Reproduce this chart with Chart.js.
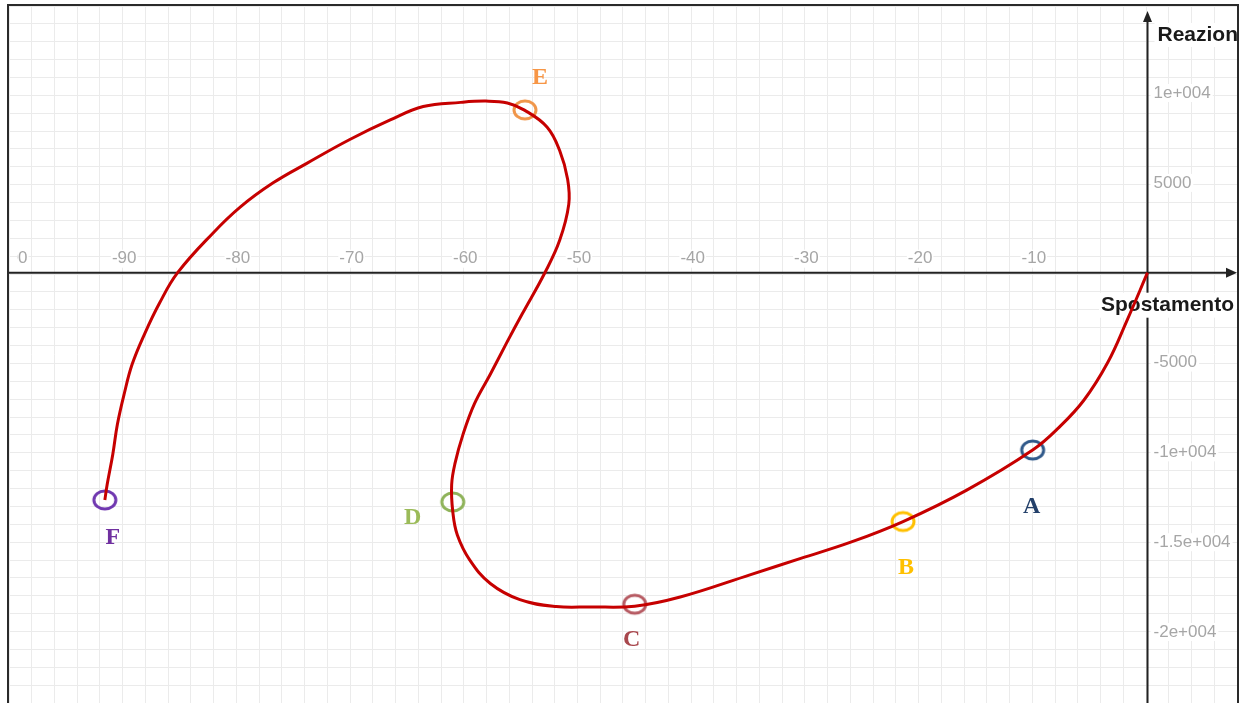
<!DOCTYPE html>
<html>
<head>
<meta charset="utf-8">
<script src="https://cdn.jsdelivr.net/npm/chart.js@4"></script>
<style>
  html, body { margin: 0; padding: 0; background: #fff; overflow: hidden; }
  #wrap { position: relative; width: 1245px; height: 703px; }
</style>
</head>
<body>
<div id="wrap"><canvas id="myChart"></canvas></div>
<script>
// reaction vs displacement path
const curveX = [0, -1.8, -3.5, -5.6, -7.8, -10.1, -15.9, -21.5, -26.1, -30.5, -34.9, -41.1, -45.1, -49.0, -52.0,
  -55.2, -57.8, -59.6, -60.7, -61.1, -61.2, -60.9, -60.2, -59.2, -57.8, -56.4, -55.0, -53.0, -51.7, -50.9, -51.0,
  -51.7, -52.8, -54.8, -56.3, -58.2, -60.4, -63.7, -66.6, -70.2, -73.9, -76.9, -79.8, -82.2, -85.3, -86.9,
  -88.2, -89.3, -90.0, -90.6, -91.0, -91.5, -91.7];
const curveY = [0, -2650, -5000, -7100, -8620, -9870, -12100, -13850, -15000, -15900, -16800, -18050, -18560, -18600, -18580,
  -18200, -17300, -16000, -14600, -13300, -11800, -10600, -9000, -7300, -5650, -3950, -2300, 0, 1800, 3800, 5200,
  6800, 8100, 9050, 9450, 9550, 9480, 9250, 8500, 7400, 6100, 5000, 3650, 2200, 0, -1700,
  -3400, -5100, -6750, -8450, -10100, -11800, -12650];

// labelled states along the path
const pointNames = ["A", "B", "C", "D", "E", "F"];
const pointX = [-10.1, -21.5, -45.1, -61.1, -54.75, -91.7];
const pointY = [-9870, -13850, -18450, -12760, 9060, -12650];

// axis labels
const xTickValues = [-100, -90, -80, -70, -60, -50, -40, -30, -20, -10];
const xTickLabels = ["-100", "-90", "-80", "-70", "-60", "-50", "-40", "-30", "-20", "-10"];
const yTickValues = [10000, 5000, -5000, -10000, -15000, -20000];
const yTickLabels = ["1e+004", "5000", "-5000", "-1e+004", "-1.5e+004", "-2e+004"];

// styling
const markerColors = ["#30598a", "#ffc000", "#b65a62", "#8fb35a", "#f0964a", "#7038b0"];
const letterColors = ["#23406a", "#ffc000", "#a8474d", "#9bbb59", "#f79646", "#7030a0"];
const letterOffsets = [[-1, 57], [3, 46], [-3, 36], [-40, 16], [15, -32], [8, 38]];

function ellipseMarker(color) {
  const c = document.createElement("canvas");
  c.width = 30;
  c.height = 26;
  const g = c.getContext("2d");
  g.strokeStyle = color;
  g.lineWidth = 3;
  g.beginPath();
  g.ellipse(15, 13, 11, 9, 0, 0, Math.PI * 2);
  g.stroke();
  return c;
}

const gridColor = (step) => (c) => {
  const v = c.tick ? c.tick.value : 1;
  return Math.abs(v % step) < 1e-6 ? "#d6d6d6" : "#ebebeb";
};

const decorations = {
  id: "decorations",
  beforeDatasetsDraw(chart) {
    const { ctx, chartArea: a, scales: { x, y } } = chart;
    const x0 = x.getPixelForValue(0);
    const y0 = y.getPixelForValue(0);
    ctx.save();
    ctx.beginPath();
    ctx.rect(a.left, a.top, a.right - a.left, a.bottom - a.top);
    ctx.clip();

    // axes with arrows
    ctx.strokeStyle = "#222";
    ctx.fillStyle = "#222";
    ctx.lineWidth = 2;
    ctx.beginPath();
    ctx.moveTo(a.left, y0);
    ctx.lineTo(a.right - 6, y0);
    ctx.moveTo(x0, a.top + 12);
    ctx.lineTo(x0, a.bottom);
    ctx.stroke();
    ctx.beginPath();
    ctx.moveTo(a.right, y0);
    ctx.lineTo(a.right - 11, y0 - 5);
    ctx.lineTo(a.right - 11, y0 + 5);
    ctx.closePath();
    ctx.fill();
    ctx.beginPath();
    ctx.moveTo(x0, a.top + 5);
    ctx.lineTo(x0 - 4.5, a.top + 16);
    ctx.lineTo(x0 + 4.5, a.top + 16);
    ctx.closePath();
    ctx.fill();

    // tick labels
    ctx.font = '17px "Liberation Sans", Arial, sans-serif';
    ctx.textBaseline = "middle";
    ctx.textAlign = "center";
    ctx.save();
    ctx.beginPath();
    ctx.rect(a.left + 8, a.top, a.right - a.left - 8, a.bottom - a.top);
    ctx.clip();
    xTickValues.forEach((v, i) => {
      const px = x.getPixelForValue(v);
      const w = ctx.measureText(xTickLabels[i]).width;
      ctx.fillStyle = "#fff";
      ctx.fillRect(px - w / 2 - 1, y0 - 23, w + 2, 18);
      ctx.fillStyle = "#a6a6a6";
      ctx.fillText(xTickLabels[i], px, y0 - 14);
    });
    ctx.restore();
    ctx.textAlign = "left";
    yTickValues.forEach((v, i) => {
      const py = y.getPixelForValue(v);
      const w = ctx.measureText(yTickLabels[i]).width;
      ctx.fillStyle = "#fff";
      ctx.fillRect(x0 + 3, py - 9, w + 5, 18);
      ctx.fillStyle = "#a6a6a6";
      ctx.fillText(yTickLabels[i], x0 + 6, py);
    });

    // axis titles
    ctx.font = 'bold 21px "Liberation Sans", Arial, sans-serif';
    ctx.fillStyle = "#fff";
    ctx.fillRect(x0 + 7, a.top + 17, 100, 24);
    ctx.fillStyle = "#1a1a1a";
    ctx.fillText("Reazione", x0 + 10, a.top + 29);
    ctx.textAlign = "center";
    const sw = ctx.measureText("Spostamento").width;
    ctx.fillStyle = "#fff";
    ctx.fillRect(x0 + 20 - sw / 2 - 2, y0 + 20, sw + 4, 25);
    ctx.fillStyle = "#1a1a1a";
    ctx.fillText("Spostamento", x0 + 20, y0 + 32);
    ctx.restore();
  },
  afterDatasetsDraw(chart) {
    const { ctx, scales: { x, y } } = chart;
    ctx.save();
    ctx.font = 'bold 24px "Liberation Serif", "Times New Roman", serif';
    ctx.textAlign = "center";
    ctx.textBaseline = "middle";
    pointNames.forEach((name, i) => {
      ctx.fillStyle = letterColors[i];
      ctx.fillText(name, x.getPixelForValue(pointX[i]) + letterOffsets[i][0], y.getPixelForValue(pointY[i]) + letterOffsets[i][1]);
    });
    ctx.restore();
  },
  afterDraw(chart) {
    const { ctx } = chart;
    ctx.save();
    ctx.strokeStyle = "#2a2a2a";
    ctx.lineWidth = 2;
    ctx.strokeRect(8, 5, 1230, 720);
    ctx.restore();
  }
};

const chart = new Chart("myChart", {
  type: "scatter",
  data: {
    datasets: [
      {
        data: curveX.map((v, i) => ({ x: v, y: curveY[i] })),
        showLine: true,
        borderColor: "#c60000",
        borderWidth: 3,
        pointRadius: 0,
        tension: 0.4,
        fill: false,
      },
      {
        data: pointX.map((v, i) => ({ x: v, y: pointY[i] })),
        showLine: false,
        pointRadius: 10,
        pointStyle: markerColors.map(ellipseMarker),
      },
    ],
  },
  options: {
    responsive: true,
    maintainAspectRatio: false,
    animation: false,
    events: [],
    layout: { autoPadding: false, padding: { left: 9, right: 8, top: 6, bottom: 0 } },
    plugins: {
      legend: { display: false },
      tooltip: { enabled: false },
    },
    scales: {
      x: {
        type: "linear",
        min: -100.13,
        max: 7.87,
        afterFit: (s) => { s.height = 0; },
        ticks: { display: false, stepSize: 2, includeBounds: false },
        grid: { color: gridColor(10), lineWidth: 1, drawTicks: false },
        border: { display: false },
      },
      y: {
        type: "linear",
        min: -23949,
        max: 14844,
        afterFit: (s) => { s.width = 0; },
        ticks: { display: false, stepSize: 1000, includeBounds: false },
        grid: { color: gridColor(5000), lineWidth: 1, drawTicks: false },
        border: { display: false },
      },
    },
  },
  plugins: [decorations],
});
</script>
</body>
</html>
